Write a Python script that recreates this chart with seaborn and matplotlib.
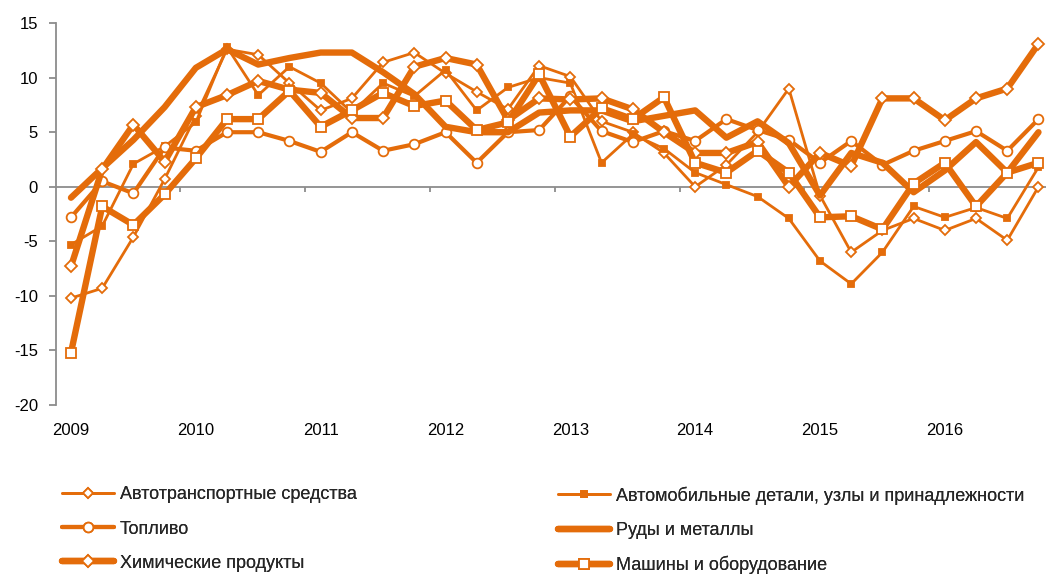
import matplotlib
matplotlib.use("Agg")
import matplotlib.pyplot as plt
import seaborn as sns

ORANGE = "#E46C0A"
GREY = "#8C8C8C"

# quarterly index, 2009Q1 .. 2016Q4
quarters = list(range(32))
years = [2009, 2010, 2011, 2012, 2013, 2014, 2015, 2016]

auto = [-10.2, -9.3, -4.6, 0.7, 6.5, 12.6, 12.1, 9.5, 7.0, 8.1, 11.4, 12.3, 10.4, 8.7, 7.1, 11.1,
        10.1, 6.0, 5.0, 3.1, 0.0, 2.0, 5.0, 9.0, -0.8, -6.0, -4.0, -2.9, -4.0, -2.9, -4.9, 0.0]
auto_parts = [-5.3, -3.6, 2.1, 3.7, 5.9, 12.8, 8.4, 11.0, 9.5, 6.8, 9.5, 8.3, 10.7, 7.0, 9.1, 10.0,
              9.5, 2.2, 4.8, 3.5, 1.3, 0.2, -0.9, -2.9, -6.8, -8.9, -6.0, -1.8, -2.8, -1.9, -2.9, 1.8]
fuel = [-2.8, 0.5, -0.6, 3.6, 3.3, 5.0, 5.0, 4.2, 3.2, 5.0, 3.3, 3.9, 5.0, 2.2, 5.0, 5.2,
        8.3, 5.1, 4.1, 5.1, 4.2, 6.2, 5.2, 4.3, 2.2, 4.2, 2.0, 3.3, 4.2, 5.1, 3.3, 6.2]
ores = [-1.0, 1.7, 4.3, 7.3, 10.9, 12.6, 11.2, 11.8, 12.3, 12.3, 10.5, 8.5, 5.5, 5.0, 5.0, 6.8,
        7.0, 7.0, 6.0, 6.5, 7.0, 4.5, 6.0, 4.0, -0.8, 3.1, 2.2, -0.5, 1.5, 4.1, 1.3, 5.0]
chem = [-7.3, 1.6, 5.7, 2.3, 7.3, 8.4, 9.7, 8.9, 8.6, 6.3, 6.3, 11.0, 11.8, 11.2, 6.1, 8.1,
        8.0, 8.1, 7.1, 5.0, 3.1, 3.1, 4.1, 0.0, 3.1, 1.9, 8.1, 8.1, 6.1, 8.1, 9.0, 13.1]
machines = [-15.2, -1.8, -3.5, -0.7, 2.6, 6.2, 6.2, 8.8, 5.5, 7.0, 8.6, 7.4, 7.9, 5.2, 5.9, 10.3,
            4.6, 7.2, 6.2, 8.2, 2.2, 1.3, 3.3, 1.3, -2.8, -2.7, -3.9, 0.3, 2.2, -1.8, 1.3, 2.2]

labels = ["Автотранспортные средства", "Автомобильные детали, узлы и принадлежности",
          "Топливо", "Руды и металлы", "Химические продукты", "Машины и оборудование"]

sns.set_theme(style="white")
plt.rcParams["font.family"] = ["Liberation Sans", "DejaVu Sans"]
plt.rcParams["axes.unicode_minus"] = False

fig = plt.figure(figsize=(10.49, 5.77), dpi=100)
ax = fig.add_axes([0.0534, 0.298, 0.944, 0.662])

# (values, linewidth, marker, markersize, facecolor)
styles = [
    (auto,       2.0, "D", 5.5, "white"),
    (auto_parts, 2.0, "s", 4.5, ORANGE),
    (fuel,       3.0, "o", 7.0, "white"),
    (ores,       4.6, None, 0, "white"),
    (chem,       4.6, "D", 6.5, "white"),
    (machines,   4.6, "s", 7.0, "white"),
]

ax.axhline(0, color=GREY, lw=1.3, zorder=1)
ax.vlines([3.5 + 4 * k for k in range(7)], -0.45, 0, color=GREY, lw=1.3, zorder=1)

handles = {}
for lbl, (vals, lw, mk, ms, fc) in zip(labels, styles):
    sns.lineplot(x=quarters, y=vals, ax=ax, color=ORANGE, lw=lw, marker=mk,
                 markersize=ms, markerfacecolor=fc, markeredgecolor=ORANGE,
                 markeredgewidth=1.3, zorder=3, legend=False)
    handles[lbl] = ax.lines[-1]

ax.set_xlim(-0.48, 31.25)
ax.set_ylim(-20, 15)
ax.set_yticks(range(-20, 16, 5))
ax.set_xticks([4 * k for k in range(8)])
ax.set_xticklabels([str(y) for y in years])
ax.set_xlabel("")
ax.set_ylabel("")

for s in ["top", "right", "bottom"]:
    ax.spines[s].set_visible(False)
ax.spines["left"].set_color(GREY)
ax.spines["left"].set_linewidth(1.3)
ax.tick_params(axis="y", left=True, direction="out", length=5, width=1.3,
               color=GREY, labelsize=12, pad=8, labelcolor="black")
ax.tick_params(axis="x", bottom=False, length=0, labelsize=12, pad=13,
               labelcolor="black")

col1 = [labels[0], labels[2], labels[4]]
col2 = [labels[1], labels[3], labels[5]]
for names, xpos in [(col1, 0.059), (col2, 0.532)]:
    leg = fig.legend([handles[n] for n in names], names, loc="upper left",
                     bbox_to_anchor=(xpos, 0.157), frameon=False, fontsize=13,
                     handlelength=2.9, handletextpad=0.3, labelspacing=0.95,
                     borderpad=0, borderaxespad=0)
    fig.add_artist(leg)

fig.savefig("out.png", dpi=100, facecolor="white")
